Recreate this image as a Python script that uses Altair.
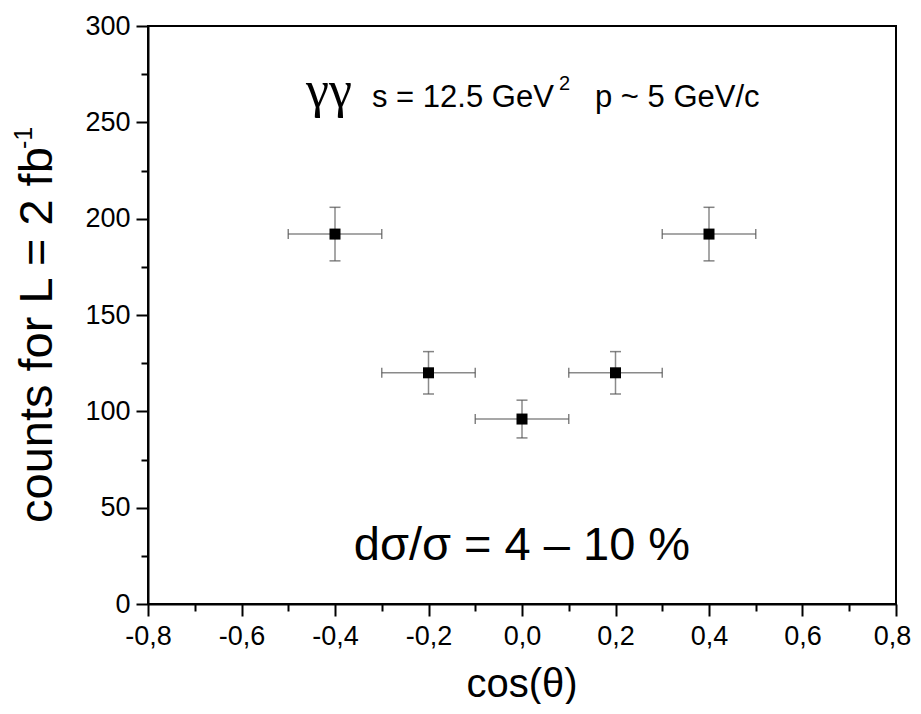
import altair as alt
import pandas as pd

# data
cos_theta = [-0.4, -0.2, 0.0, 0.2, 0.4]
counts = [192, 120, 96, 120, 192]
count_err = [13.9, 11.0, 9.8, 11.0, 13.9]
bin_half_width = [0.1, 0.1, 0.1, 0.1, 0.1]

x_ticks = [-0.8, -0.7, -0.6, -0.5, -0.4, -0.3, -0.2, -0.1, 0.0, 0.1, 0.2, 0.3, 0.4, 0.5, 0.6, 0.7, 0.8]
y_ticks = [0, 25, 50, 75, 100, 125, 150, 175, 200, 225, 250, 275, 300]

df = pd.DataFrame({
    "x": cos_theta,
    "y": counts,
    "xlo": [a - b for a, b in zip(cos_theta, bin_half_width)],
    "xhi": [a + b for a, b in zip(cos_theta, bin_half_width)],
    "ylo": [a - b for a, b in zip(counts, count_err)],
    "yhi": [a + b for a, b in zip(counts, count_err)],
})

FONT = "Liberation Sans"

xscale = alt.Scale(domain=[-0.8, 0.8], nice=False, zero=False)
yscale = alt.Scale(domain=[0, 300], nice=False)

xaxis = alt.Axis(
    values=x_ticks,
    title=None,
    grid=False,
    domainColor="black", domainWidth=2,
    tickColor="black", tickWidth=2,
    tickSize={"condition": {"test": "abs(round(datum.value*10))%2==0", "value": 12}, "value": 7},
    labelExpr="abs(round(datum.value*10))%2==0 ? (datum.value < -0.001 ? '-' : '') + replace(format(abs(datum.value), '.1f'), '.', ',') : ''",
    labelOffset={"condition": {"test": "datum.value > 0.75", "value": -4}, "value": 0},
    labelFont=FONT, labelFontSize=27, labelColor="black", labelPadding=7,
    labelFlush=False, labelOverlap=False,
)
yaxis = alt.Axis(
    values=y_ticks,
    title=None,
    grid=False,
    domainColor="black", domainWidth=2,
    tickColor="black", tickWidth=2,
    tickSize={"condition": {"test": "datum.value % 50 == 0", "value": 12}, "value": 7},
    labelExpr="datum.value % 50 == 0 ? datum.label : ''",
    labelFont=FONT, labelFontSize=27, labelColor="black", labelPadding=6,
    labelFlush=False, labelOverlap=False,
)

base = alt.Chart(df)

xerr = base.mark_rule(color="#8a8a8a", strokeWidth=1.5).encode(
    x=alt.X("xlo:Q", scale=xscale, axis=xaxis), x2="xhi:Q", y=alt.Y("y:Q", scale=yscale, axis=yaxis)
)
yerr = base.mark_rule(color="#8a8a8a", strokeWidth=1.5).encode(
    x=alt.X("x:Q", scale=xscale), y=alt.Y("ylo:Q", scale=yscale), y2="yhi:Q"
)
cap_top = base.mark_tick(orient="horizontal", size=11, thickness=1.5, color="#505050").encode(
    x=alt.X("x:Q", scale=xscale), y=alt.Y("yhi:Q", scale=yscale)
)
cap_bot = base.mark_tick(orient="horizontal", size=11, thickness=1.5, color="#505050").encode(
    x=alt.X("x:Q", scale=xscale), y=alt.Y("ylo:Q", scale=yscale)
)
cap_left = base.mark_tick(orient="vertical", size=10, thickness=1.5, color="#505050").encode(
    x=alt.X("xlo:Q", scale=xscale), y=alt.Y("y:Q", scale=yscale)
)
cap_right = base.mark_tick(orient="vertical", size=10, thickness=1.5, color="#505050").encode(
    x=alt.X("xhi:Q", scale=xscale), y=alt.Y("y:Q", scale=yscale)
)
points = base.mark_square(size=121, color="black", opacity=1, filled=True).encode(
    x=alt.X("x:Q", scale=xscale), y=alt.Y("y:Q", scale=yscale)
)

def label(text, x, y, size, align="left", angle=0, font=FONT, style="normal"):
    return alt.Chart(pd.DataFrame({"t": [text]})).mark_text(
        align=align, baseline="alphabetic", font=font, fontSize=size,
        angle=angle, color="black", fontStyle=style,
    ).encode(text="t:N", x=alt.value(x), y=alt.value(y))

texts = [
    label("γγ", 158, 81, 52, font="Liberation Serif"),
    label("s = 12.5 GeV", 224, 81, 31),
    label("2", 411, 64, 20),
    label("p ~ 5 GeV/c", 447, 81, 31),
    label("dσ/σ = 4 – 10 %", 374, 534, 47, align="center"),
    label("cos(θ)", 374, 671, 40, align="center"),
    label("counts for L = 2 fb", -96, 497, 47, angle=270),
    label("-1", -116, 123, 25, angle=270),
]

chart = alt.layer(xerr, yerr, cap_top, cap_bot, cap_left, cap_right, points, *texts).properties(
    width=748, height=578,
    autosize=alt.AutoSizeParams(type="none"),
    padding={"left": 140, "top": 18, "right": 17, "bottom": 100},
    background="white",
).configure_view(stroke="black", strokeWidth=2)

chart.save("out.html", embed_options={"renderer": "svg", "actions": False})
